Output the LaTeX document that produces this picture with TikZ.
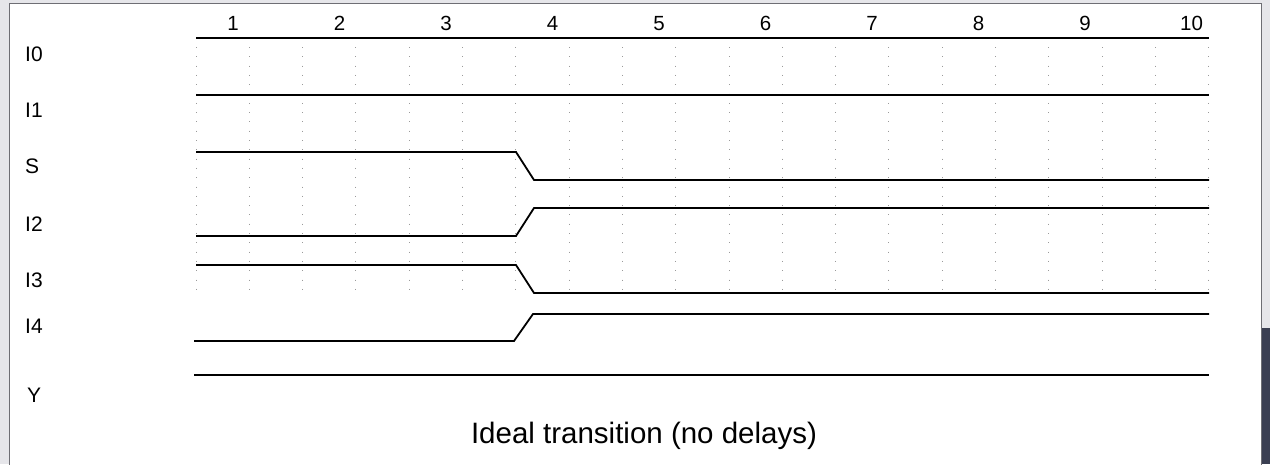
\documentclass[tikz,border=0pt]{standalone}
\usepackage{fontspec}
\setmainfont{Liberation Sans}
\usetikzlibrary{positioning}

\definecolor{winbg}{HTML}{E6E6EA}
\definecolor{winedge}{HTML}{6E6E74}
\definecolor{scrolldark}{HTML}{3B3F52}
\definecolor{griddot}{HTML}{9A9A9A}

\tikzset{
  wave/.style={line width=1.8pt, black},
  gridline/.style={griddot, line width=1pt, dash pattern=on 1pt off 8.3pt},
  siglabel/.style={anchor=west, inner sep=0pt, font=\fontsize{21}{22}\selectfont},
  ticklabel/.style={anchor=base, inner sep=0pt, font=\fontsize{20.5}{22}\selectfont},
}

\begin{document}
\begin{tikzpicture}[x=1pt,y=-1pt]
\useasboundingbox (0,0) rectangle (1270,464);

% window frame
\fill[winbg] (0,0) rectangle (1270,464);
\filldraw[fill=white, draw=winedge, line width=1pt] (9,3) rectangle (1261,470);
\fill[scrolldark] (1262,328) rectangle (1270,464);

\def\xs{196}
\def\xe{1209}
\def\ta{516}
\def\tb{534}

% dotted grid
\foreach \i in {0,...,19}
  \draw[gridline] (\xs+53.3*\i,47) -- (\xs+53.3*\i,296);

% cycle numbers
\foreach \k in {1,...,10}
  \node[ticklabel] (t\k) at (233+106.5*\k-106.5,30) {\k};

% signal names
\node[siglabel] (n0) at (25,54) {I0};
\node[siglabel] (n1) at (25,110) {I1};
\node[siglabel] (ns) at (25,166) {S};
\node[siglabel] (n2) at (25,224.5) {I2};
\node[siglabel] (n3) at (25,280.5) {I3};
\node[siglabel] (n4) at (25,326.5) {I4};
\node[siglabel] (ny) at (27,395.5) {Y};

% waveforms
\draw[wave] (\xs,38) -- (\xe,38);
\draw[wave] (\xs,95) -- (\xe,95);
\draw[wave] (\xs,152) -- (\ta,152) -- (\tb,180) -- (\xe,180);
\draw[wave] (\xs,236) -- (\ta,236) -- (\tb,208) -- (\xe,208);
\draw[wave] (\xs,265) -- (\ta,265) -- (\tb,293) -- (\xe,293);
\draw[wave] (194,341) -- (514,341) -- (533,314) -- (\xe,314);
\draw[wave] (194,375) -- (\xe,375);

\node[anchor=base, inner sep=0pt, font=\fontsize{29.5}{30}\selectfont] (cap) at (644,443) {Ideal transition (no delays)};
\end{tikzpicture}
\end{document}
